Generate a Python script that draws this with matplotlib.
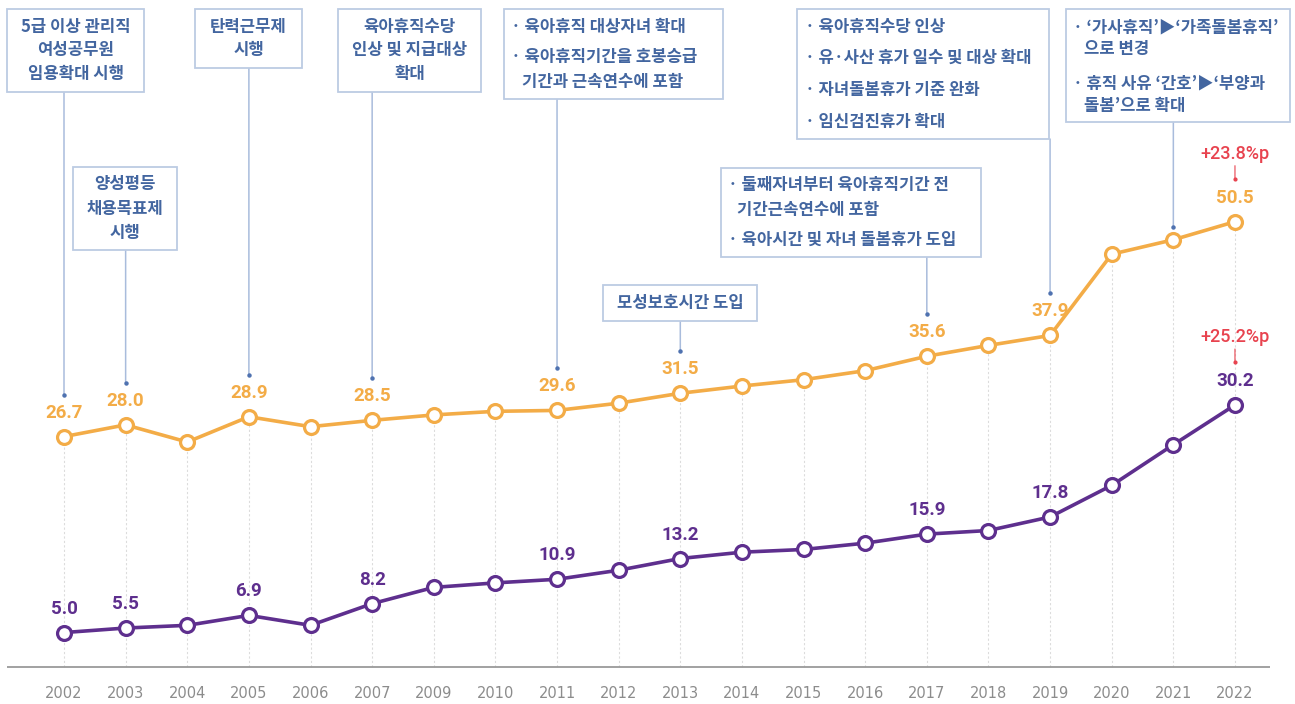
import matplotlib
matplotlib.use("Agg")
import matplotlib.pyplot as plt
from matplotlib.patches import Rectangle
from matplotlib.transforms import offset_copy

plt.rcParams['font.family'] = ['Noto Sans CJK KR', 'DejaVu Sans']

# Data
years = ['2002', '2003', '2004', '2005', '2006', '2007', '2009', '2010', '2011', '2012',
         '2013', '2014', '2015', '2016', '2017', '2018', '2019', '2020', '2021', '2022']
orange_vals = [26.7, 28.0, 26.1, 28.9, 27.8, 28.5, 29.1, 29.5, 29.6, 30.4,
               31.5, 32.3, 33.0, 34.0, 35.6, 36.8, 37.9, 46.9, 48.5, 50.5]
purple_vals = [5.0, 5.5, 5.8, 6.9, 5.8, 8.2, 10.0, 10.5, 10.9, 11.9,
               13.2, 13.9, 14.2, 14.9, 15.9, 16.3, 17.8, 21.3, 25.8, 30.2]
labeled_years = ['2002', '2003', '2005', '2007', '2011', '2013', '2017', '2019', '2022']
change_notes = ['+23.8%p', '+25.2%p']

note_years = ['2002', '2003', '2005', '2007', '2011', '2013', '2017', '2019', '2021']
note_lines = [
    ['5급 이상 관리직', '여성공무원', '임용확대 시행'],
    ['양성평등', '채용목표제', '시행'],
    ['탄력근무제', '시행'],
    ['육아휴직수당', '인상 및 지급대상', '확대'],
    ['· 육아휴직 대상자녀 확대', '· 육아휴직기간을 호봉승급', '기간과 근속연수에 포함'],
    ['모성보호시간 도입'],
    ['· 둘째자녀부터 육아휴직기간 전', '기간근속연수에 포함', '· 육아시간 및 자녀 돌봄휴가 도입'],
    ['· 육아휴직수당 인상', '· 유·사산 휴가 일수 및 대상 확대', '· 자녀돌봄휴가 기준 완화', '· 임신검진휴가 확대'],
    ['· ‘가사휴직’▶‘가족돌봄휴직’', '으로 변경', '· 휴직 사유 ‘간호’▶‘부양과', '돌봄’으로 확대'],
]

# Layout (figure pixels, measured from top-left)
W, H = 1295, 704
note_boxes = [(7, 9, 144, 92), (73, 167, 177, 250), (195, 9, 302, 68), (338, 9, 481, 92),
              (504, 9, 723, 99), (603, 285, 757, 321), (721, 168, 981, 257),
              (797, 9, 1049, 139), (1066, 9, 1290, 122)]
note_line_y = [[27, 50, 74], [184, 209, 233], [27, 50], [27, 50, 74],
               [27, 57, 82], [303], [185, 210, 240], [27, 58, 90, 122], [27, 49, 83, 106]]
note_line_x = [None, None, None, None,
               [511, 511, 522], None, [728, 737, 728], [805, 805, 805, 805],
               [1073, 1084, 1073, 1084]]
note_gap = [42, 42, 42, 42, 42, 42, 42, 42, 13]

ORANGE = '#f3ac47'
PURPLE = '#5e2f8e'
RED = '#e8434f'
BOX_TEXT = '#4366a0'
BOX_EDGE = '#bccbe3'
LINK = '#a9bcdc'
NUM_FONT = ['Roboto', 'DejaVu Sans']

fig = plt.figure(figsize=(W / 100, H / 100), dpi=100)
ax = fig.add_axes([0, 0, 1, 1])
step = 61.63
ax.set_xlim(-64 / step, (W - 64) / step)
y_zero, k = 677.7, 9.03
ax.set_ylim(-(H - y_zero) / k, y_zero / k)
ax.axis('off')

x = list(range(len(years)))
base = (y_zero - 667) / k

# guides and axis line
ax.vlines(x, base, orange_vals, colors='#dcdcdc', linestyles=(0, (2, 2)), lw=0.8, zorder=1)
ax.hlines(base, (7 - 64) / step, (1270 - 64) / step, colors='#9a9a9a', lw=1.3, zorder=2)
for i, yr in enumerate(years):
    ax.annotate(yr, (i, base), xytext=(0, -26), textcoords='offset pixels',
                ha='center', va='center', fontsize=10.5, color='#8c8c8c',
                family=['DejaVu Sans'])

# series
for vals, col in [(orange_vals, ORANGE), (purple_vals, PURPLE)]:
    ax.plot(x, vals, color=col, lw=2.6, marker='o', ms=10, mfc='white',
            mec=col, mew=2.3, zorder=4)
    for yr in labeled_years:
        i = years.index(yr)
        ax.annotate(f'{vals[i]:.1f}', (i, vals[i]), xytext=(0, 24),
                    textcoords='offset pixels', ha='center', va='center',
                    fontsize=13.5, color=col, fontweight='bold',
                    family=NUM_FONT, zorder=5)

# change notes on last year
last = len(years) - 1
for note, vals in zip(change_notes, [orange_vals, purple_vals]):
    ax.annotate(note, (last, vals[last]), xytext=(0, 68), textcoords='offset pixels',
                ha='center', va='center', fontsize=13, color=RED,
                family=NUM_FONT, fontweight='medium')
    tip = offset_copy(ax.transData, fig=fig, y=43, units='dots')
    ax.annotate('', xy=(last, vals[last]), xycoords=tip,
                xytext=(0, 13), textcoords='offset pixels',
                arrowprops=dict(arrowstyle='-', color=RED, lw=0.8, shrinkA=0, shrinkB=0))
    ax.plot(last, vals[last], marker='o', ms=2, color=RED, transform=tip)

# policy notes
for yr, lines, box, ys, xs, gap in zip(note_years, note_lines, note_boxes,
                                       note_line_y, note_line_x, note_gap):
    x0, y0, x1, y1 = box
    i = years.index(yr)
    end = offset_copy(ax.transData, fig=fig, y=gap, units='dots')
    ax.annotate('', xy=(i, orange_vals[i]), xycoords=end,
                xytext=(i, H - y1), textcoords=('data', 'figure pixels'),
                arrowprops=dict(arrowstyle='-', color=LINK, lw=1.1, shrinkA=0, shrinkB=0),
                zorder=3)
    ax.plot(i, orange_vals[i], marker='o', ms=2.2, color='#4f72b0', transform=end, zorder=3)
    fig.add_artist(Rectangle((x0 / W, 1 - y1 / H), (x1 - x0) / W, (y1 - y0) / H,
                             transform=fig.transFigure, facecolor='white',
                             edgecolor=BOX_EDGE, lw=1.3, zorder=6))
    for j, (txt, ly) in enumerate(zip(lines, ys)):
        if xs is None:
            fig.text((x0 + x1) / 2 / W, 1 - ly / H, txt, ha='center', va='center',
                     fontsize=12, color=BOX_TEXT, fontweight='bold', zorder=7)
        else:
            fig.text(xs[j] / W, 1 - ly / H, txt, ha='left', va='center',
                     fontsize=12, color=BOX_TEXT, fontweight='bold', zorder=7)

fig.savefig('out.png', dpi=100, facecolor='white')
